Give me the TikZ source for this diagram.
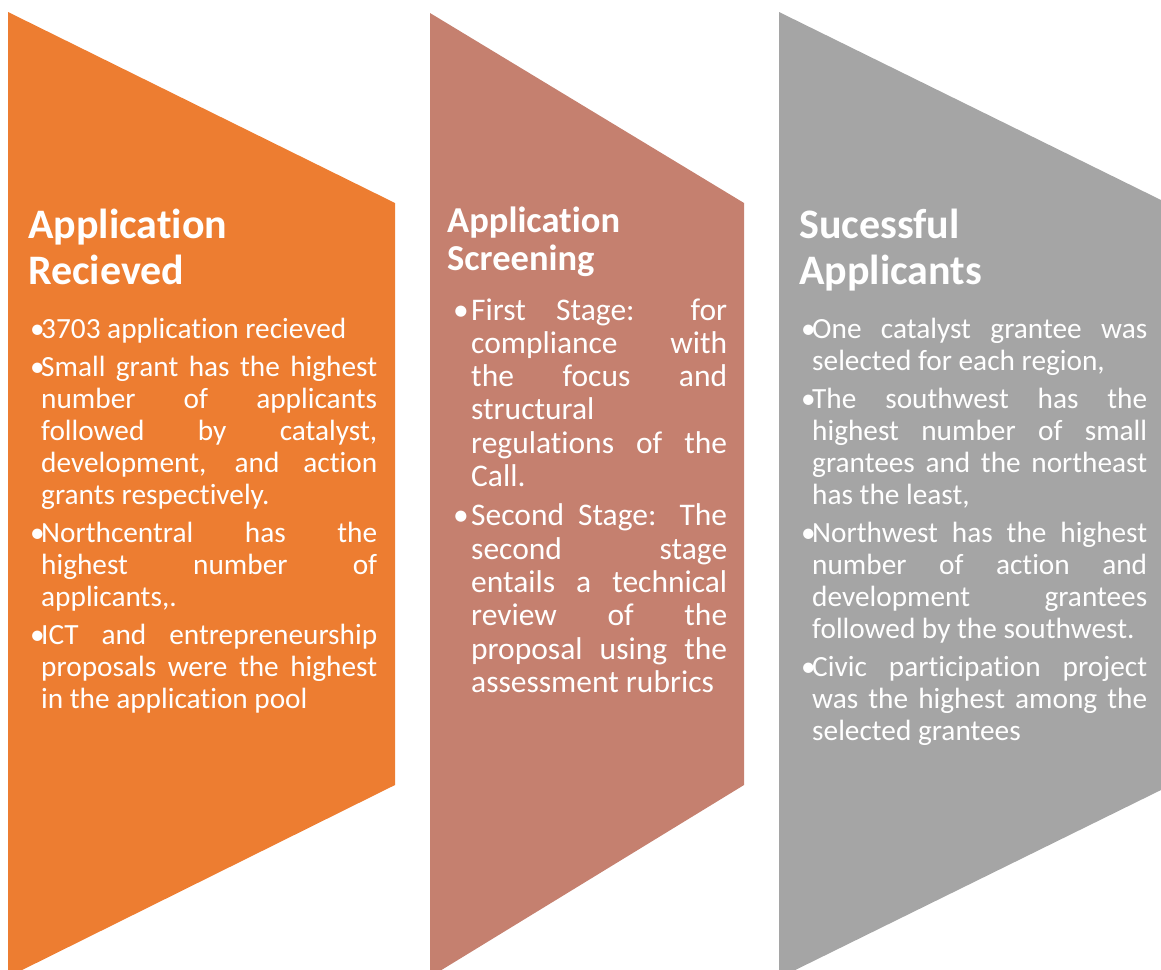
\documentclass[tikz,border=0pt]{standalone}
\usepackage{fontspec}
\setmainfont[Ligatures={NoCommon,NoContextual,NoRare}]{Carlito}
\definecolor{recvorange}{HTML}{ED7D31}
\definecolor{screenbrown}{HTML}{C5806F}
\definecolor{successgray}{HTML}{A5A5A5}
% bullet with hanging indent of width #1
\newcommand{\bul}[1]{\hangindent=#1\hangafter=1\makebox[#1][l]{•}}

\begin{document}
\begin{tikzpicture}[x=1pt, y=-1pt,
  title/.style n args={2}{text=white, inner sep=0pt, anchor=base west, text width=330pt, align=left,
    execute at begin node={\fontsize{#1}{#2}\selectfont\bfseries}},
  body/.style n args={2}{text=white, inner sep=0pt, anchor=base west, align=justify,
    execute at begin node={\fontsize{#1}{#2}\selectfont\setlength{\parskip}{6pt}\tolerance=10000 \hyphenpenalty=10000 }}]
  \useasboundingbox (0,0) rectangle (1161,969);
  \clip (0,0) rectangle (1161,969);
  % Panels, cut at the bottom of the page
  \fill[recvorange] (8,12) -- (395,203) -- (395,785) -- (8,977) -- cycle;
  \fill[screenbrown] (430,13) -- (744,203) -- (744,785) -- (430,977) -- cycle;
  \fill[successgray] (779,12) -- (1161,200) -- (1161,790) -- (779,978) -- cycle;
  % Panel 1: applications received
  \node[title={42}{46}] (recvtitle) at (28,238) {Application\\Recieved};
  \node[body={29.3}{32}, text width=347pt] (recvlist) at (30,338) {%
    \bul{11pt}3703 application recieved\par
    \bul{11pt}Small grant has the highest\linebreak number of applicants\linebreak followed by catalyst,\linebreak development, and action\linebreak grants respectively.\par
    \bul{11pt}Northcentral has the\linebreak highest number of\linebreak applicants,.\par
    \bul{11pt}ICT and entrepreneurship\linebreak proposals were the highest\linebreak in the application pool\par};
  % Panel 2: screening
  \node[title={36.5}{38}] (screentitle) at (447,232) {Application\\Screening};
  \node[body={31.5}{33.3}, text width=274pt] (screenlist) at (453,320) {%
    \bul{18pt}First Stage: for\linebreak compliance with\linebreak the focus and\linebreak structural\linebreak regulations of the\linebreak Call.\par
    \bul{18pt}Second Stage: The\linebreak second stage\linebreak entails a technical\linebreak review of the\linebreak proposal using the\linebreak assessment rubrics\par};
  % Panel 3: successful applicants
  \node[title={42}{46}] (successtitle) at (799,238) {Sucessful\\Applicants};
  \node[body={29.3}{32}, text width=346pt] (successlist) at (801,338) {%
    \bul{11pt}One catalyst grantee was\linebreak selected for each region,\par
    \bul{11pt}The southwest has the\linebreak highest number of small\linebreak grantees and the northeast\linebreak has the least,\par
    \bul{11pt}Northwest has the highest\linebreak number of action and\linebreak development grantees\linebreak followed by the southwest.\par
    \bul{11pt}Civic participation project\linebreak was the highest among the\linebreak selected grantees\par};
\end{tikzpicture}
\end{document}
